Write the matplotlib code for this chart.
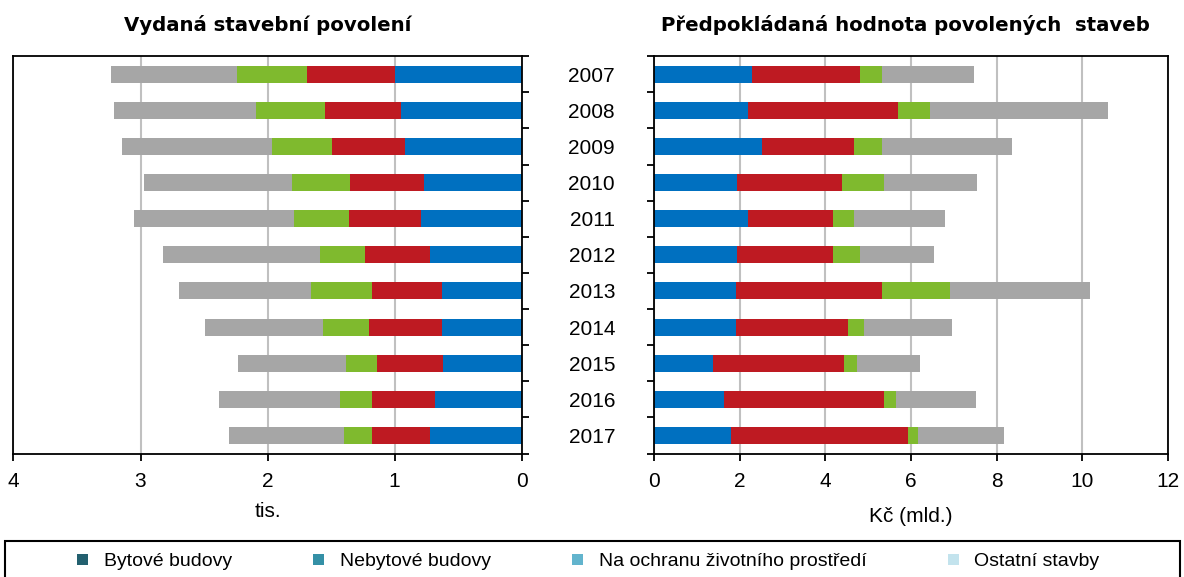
import numpy as np
import matplotlib
matplotlib.use("Agg")
import matplotlib.pyplot as plt
from matplotlib.patches import Patch, Rectangle

plt.rcParams['font.family'] = ['Liberation Sans', 'DejaVu Sans']

# data
years = ['2007', '2008', '2009', '2010', '2011', '2012', '2013', '2014', '2015', '2016', '2017']

# Vydaná stavební povolení (tis.)
pov_bytove = [1.00, 0.95, 0.915, 0.77, 0.79, 0.72, 0.63, 0.63, 0.615, 0.68, 0.72]
pov_nebytove = [0.69, 0.60, 0.58, 0.58, 0.57, 0.51, 0.55, 0.57, 0.52, 0.50, 0.46]
pov_ochrana = [0.55, 0.54, 0.47, 0.46, 0.43, 0.36, 0.48, 0.36, 0.25, 0.25, 0.22]
pov_ostatni = [0.99, 1.12, 1.18, 1.16, 1.26, 1.23, 1.04, 0.93, 0.85, 0.95, 0.90]

# Předpokládaná hodnota (mld. Kč)
hod_bytove = [2.28, 2.19, 2.52, 1.95, 2.19, 1.95, 1.91, 1.91, 1.39, 1.63, 1.81]
hod_nebytove = [2.52, 3.50, 2.14, 2.43, 2.00, 2.24, 3.41, 2.61, 3.04, 3.74, 4.11]
hod_ochrana = [0.52, 0.75, 0.66, 0.99, 0.48, 0.61, 1.59, 0.39, 0.32, 0.27, 0.24]
hod_ostatni = [2.15, 4.15, 3.03, 2.18, 2.13, 1.73, 3.26, 2.04, 1.45, 1.87, 2.00]

legend_labels = ['Bytové budovy', 'Nebytové budovy', 'Na ochranu životního prostředí', 'Ostatní stavby']
legend_colors = ['#23606f', '#3490a6', '#62b4cd', '#c3e3ed']
bar_colors = ['#0070c0', '#be1a22', '#7fba2e', '#a6a6a6']

fig = plt.figure(figsize=(11.84, 5.77), dpi=100)
ax1 = fig.add_axes([0.0114, 0.214, 0.4291, 0.6886])
ax2 = fig.add_axes([0.5523, 0.214, 0.4343, 0.6886])

y = np.arange(len(years))
h = 0.47


def stack(ax, series):
    left = np.zeros(len(years))
    for vals, c in zip(series, bar_colors):
        ax.barh(y, vals, left=left, height=h, color=c, zorder=2)
        left += np.array(vals)


stack(ax1, [pov_bytove, pov_nebytove, pov_ochrana, pov_ostatni])
stack(ax2, [hod_bytove, hod_nebytove, hod_ochrana, hod_ostatni])

for ax in (ax1, ax2):
    ax.set_ylim(len(years) - 0.5, -0.5)
    ax.set_yticks(np.arange(-0.5, len(years)), minor=False)
    ax.set_yticklabels([])
    ax.grid(axis='x', color='#c0c0c0', linewidth=1.5, zorder=0)
    for s in ax.spines.values():
        s.set_linewidth(1.3)
        s.set_color('black')
    ax.tick_params(axis='x', length=5, width=1.3, labelsize=15, pad=8, direction='out')
    ax.tick_params(axis='y', length=5, width=1.3, direction='out')

ax1.set_xlim(4, 0)
ax1.set_xticks([4, 3, 2, 1, 0])
ax1.yaxis.tick_right()
ax1.set_xlabel('tis.', fontsize=15, labelpad=8)
ax1.set_title('Vydaná stavební povolení', fontsize=14.2, fontweight='bold',
              family='DejaVu Sans', pad=18)

ax2.set_xlim(0, 12)
ax2.set_xticks([0, 2, 4, 6, 8, 10, 12])
ax2.set_yticks(y, minor=True)
ax2.set_yticklabels(years, minor=True)
ax2.tick_params(axis='y', which='minor', length=0, labelsize=15, pad=28)
ax2.set_xlabel('Kč (mld.)', fontsize=15, labelpad=12)
ax2.set_title('Předpokládaná hodnota povolených  staveb', fontsize=14.2, fontweight='bold',
              family='DejaVu Sans', pad=18, x=0.49)

# legend box
fig.patches.append(Rectangle((5 / 1184, -0.05), 1175 / 1184, 1 - 541 / 577 + 0.05,
                             transform=fig.transFigure, fill=False,
                             edgecolor='black', linewidth=1.5))
handles = [Patch(facecolor=c, edgecolor='none') for c in legend_colors]
fig.legend(handles, legend_labels, ncol=4, loc='center', bbox_to_anchor=(0.497, 0.026),
           frameon=False, fontsize=14, handlelength=0.55, handleheight=0.55,
           handletextpad=0.8, columnspacing=4.2)

fig.savefig('out.png', dpi=100)
